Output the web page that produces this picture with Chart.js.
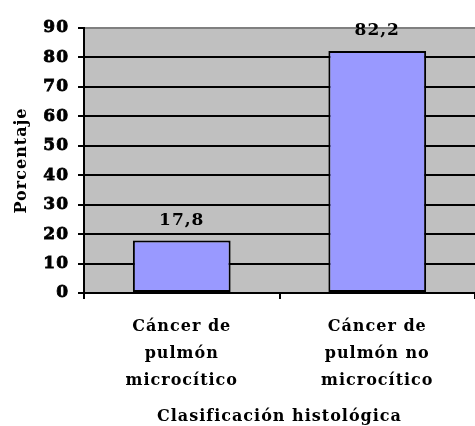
<!DOCTYPE html>
<html>
<head>
<meta charset="utf-8">
<script src="https://cdn.jsdelivr.net/npm/chart.js@4.4.1/dist/chart.umd.min.js"></script>
<style>
  html, body { margin: 0; padding: 0; background: #fff; }
  canvas { display: block; }
</style>
</head>
<body>
<canvas id="myChart" width="475" height="426"></canvas>
<script>
    // categorías
    let categorias = [
        ['Cáncer de', 'pulmón', 'microcítico'],
        ['Cáncer de', 'pulmón no', 'microcítico']
    ];
    // porcentajes
    let porcentajes = [17.8, 82.2];
    // ticks del eje Y
    let yMin = 0;
    let yMax = 90;
    let yPaso = 10;

    const fuente = "'DejaVu Serif'";

    // espaciado de letras
    const espaciado = {
        id: 'espaciado',
        beforeUpdate(chart) { chart.ctx.letterSpacing = '1px'; },
        beforeDraw(chart) {
            const ctx = chart.ctx;
            ctx.letterSpacing = '1px';
            // fondo gris del área de trazado
            const a = chart.chartArea;
            ctx.save();
            ctx.fillStyle = '#C0C0C0';
            ctx.fillRect(a.left, a.top, a.right - a.left, a.bottom - a.top);
            ctx.restore();
        }
    };

    // etiquetas de valor encima de las barras
    const etiquetas = {
        id: 'etiquetas',
        afterDatasetsDraw(chart) {
            const ctx = chart.ctx;
            const meta = chart.getDatasetMeta(0);
            ctx.save();
            ctx.font = '700 17px ' + fuente;
            ctx.fillStyle = '#000';
            ctx.textAlign = 'center';
            ctx.textBaseline = 'middle';
            meta.data.forEach((bar, i) => {
                const txt = String(porcentajes[i]).replace('.', ',');
                ctx.fillText(txt, bar.x, bar.y - 20);
            });
            ctx.restore();
        }
    };

    let ctx = document.getElementById('myChart');
    let myChart = new Chart(ctx, {
        type: 'bar',
        data: {
            labels: categorias,
            datasets: [{
                label: 'Porcentaje',
                data: porcentajes,
                backgroundColor: '#9999FF',
                borderColor: '#000',
                borderWidth: 2,
                borderSkipped: false,
                barPercentage: 0.5,
                categoryPercentage: 1.0
            }]
        },
        options: {
            responsive: false,
            animation: false,
            layout: { padding: { left: 0, top: 28, right: 0, bottom: 0 } },
            plugins: {
                legend: { display: false },
                tooltip: { enabled: false }
            },
            scales: {
                x: {
                    afterFit(scale) { scale.height = 133; },
                    grid: {
                        offset: true,
                        drawOnChartArea: false,
                        drawTicks: true,
                        tickLength: 6,
                        color: '#000',
                        lineWidth: 2
                    },
                    border: { color: '#000', width: 2 },
                    ticks: {
                        color: '#000',
                        padding: 14,
                        maxRotation: 0,
                        font: { family: fuente, size: 16, weight: 700, lineHeight: 1.7 }
                    },
                    title: {
                        display: true,
                        text: 'Clasificación histológica',
                        color: '#000',
                        padding: { top: 0, bottom: 0 },
                        font: { family: fuente, size: 16, weight: 700 }
                    }
                },
                y: {
                    min: yMin,
                    max: yMax,
                    afterFit(scale) { scale.width = 84; },
                    grid: {
                        color: (c) => c.tick && c.tick.value === yMax ? '#808080' : '#000',
                        tickColor: '#000',
                        lineWidth: 2,
                        tickLength: 6
                    },
                    border: { color: '#000', width: 2 },
                    ticks: {
                        stepSize: yPaso,
                        color: '#000',
                        padding: 9,
                        textStrokeColor: '#000',
                        textStrokeWidth: 0.8,
                        font: { family: fuente, size: 17, weight: 700 }
                    },
                    title: {
                        display: true,
                        text: 'Porcentaje',
                        color: '#000',
                        padding: { top: 12, bottom: 0 },
                        font: { family: fuente, size: 16, weight: 700 }
                    }
                }
            }
        },
        plugins: [espaciado, etiquetas]
    });
</script>
</body>
</html>
